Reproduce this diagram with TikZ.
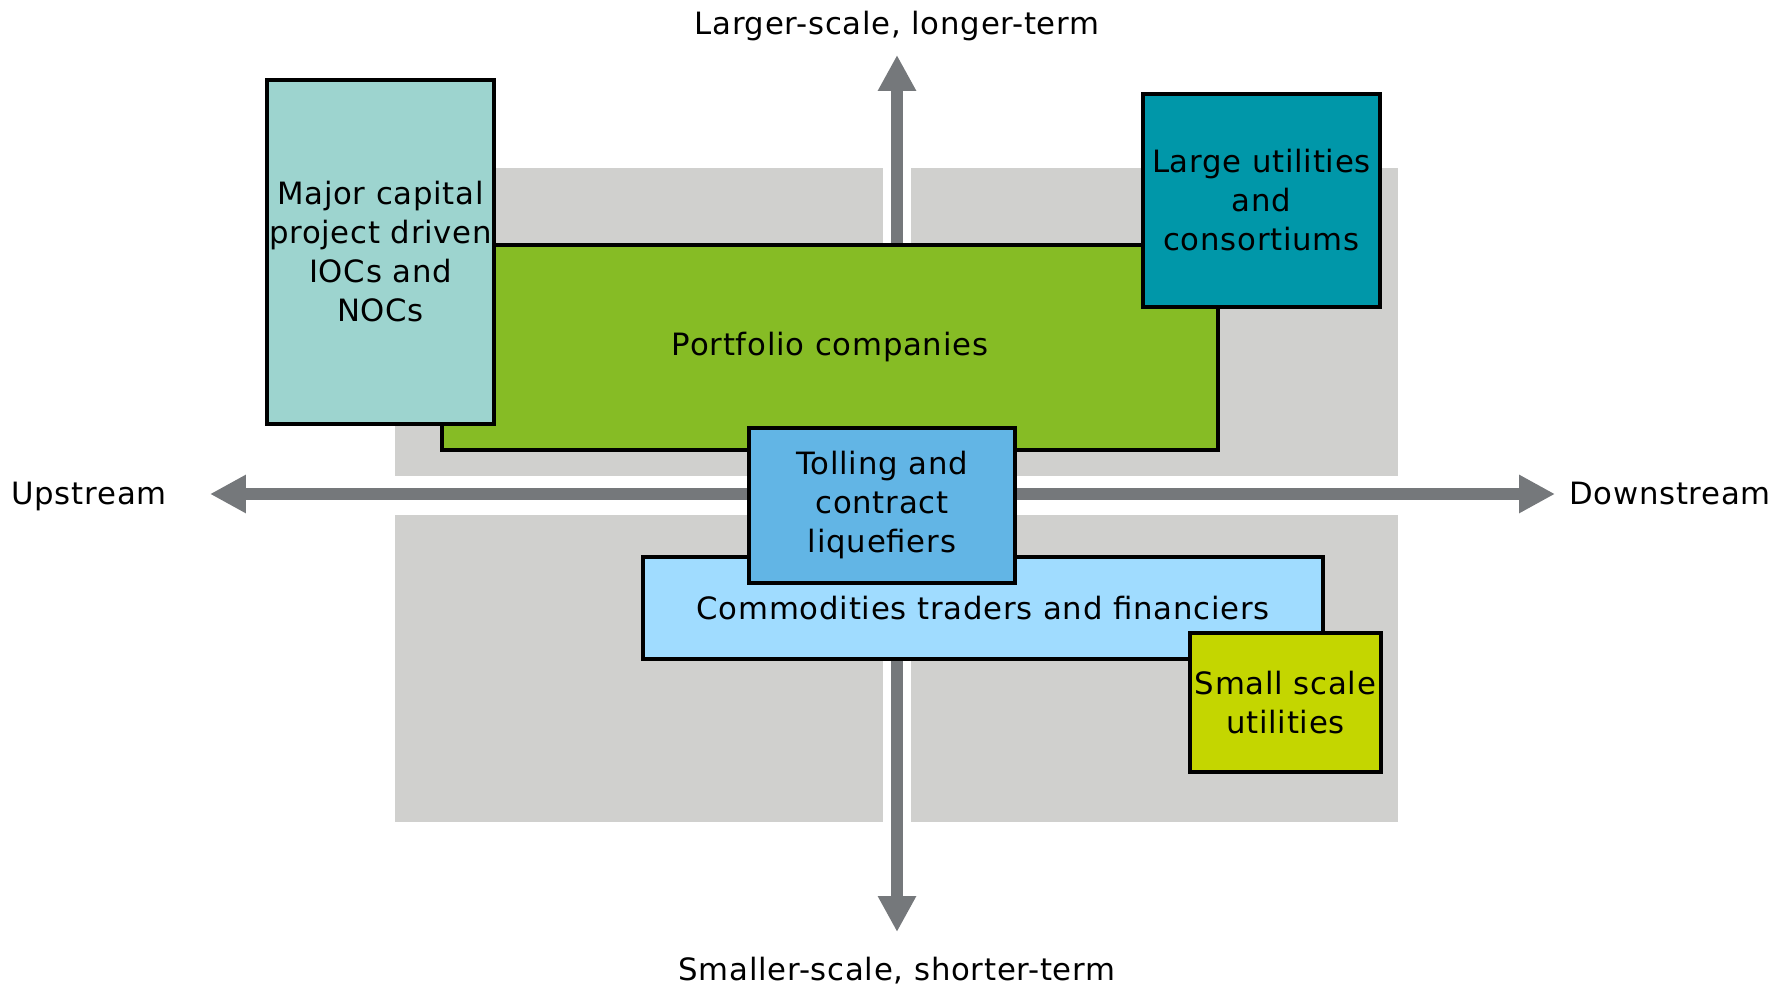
\documentclass[tikz,border=0pt]{standalone}
\usepackage{fontspec}
\setmainfont{DejaVu Sans}[LetterSpace=2.5]
\usetikzlibrary{arrows.meta}

\definecolor{quadgray}{HTML}{D0D0CE}
\definecolor{axisgray}{HTML}{75787B}
\definecolor{majorteal}{HTML}{9DD4CF}
\definecolor{portgreen}{HTML}{86BC25}
\definecolor{utilteal}{HTML}{0097A9}
\definecolor{tollblue}{HTML}{62B5E5}
\definecolor{tradeblue}{HTML}{A0DCFF}
\definecolor{smalllime}{HTML}{C4D600}

% one pixel of the layout grid
\newlength{\px}
\setlength{\px}{0.02cm}

\tikzset{
	quad/.style={fill=quadgray},
	axis/.style={draw=axisgray, line width=0.24cm,
		{Triangle[length=0.72cm,width=0.72cm]}-{Triangle[length=0.72cm,width=0.72cm]}},
	player/.style={draw=black, line width=3.5\px, align=center, inner sep=0pt,
		font=\fontsize{17.5}{22.2}\selectfont},
	axislabel/.style={anchor=base, font=\fontsize{17.5}{22.2}\selectfont}
}

\begin{document}
\begin{tikzpicture}[x=0.02cm, y=0.02cm]
		\useasboundingbox (0,0) rectangle (1790,990);
		
		% four quadrants
		\fill[quad] (395,514) rectangle (883,822);
		\fill[quad] (911,514) rectangle (1398,822);
		\fill[quad] (395,168) rectangle (883,475);
		\fill[quad] (911,168) rectangle (1398,475);
		
		% axes
		\coordinate (west) at (210,496);
		\coordinate (east) at (1555,496);
		\coordinate (north) at (897,935);
		\coordinate (south) at (897,58);
		\draw[axis] (west) -- (east);
		\draw[axis] (north) -- (south);
		
		\node[axislabel] (up) at (897,955) {Larger-scale, longer-term};
		\node[axislabel] (down) at (897,10) {Smaller-scale, shorter-term};
		\node[axislabel] (upstream) at (89,485) {Upstream};
		\node[axislabel] (downstream) at (1670,485) {Downstream};
		
		% players
		\node[player, fill=portgreen, minimum width=776\px, minimum height=205\px] (portfolio) at (830,642.5) {Portfolio companies};
		\node[player, fill=majorteal, minimum width=227\px, minimum height=344\px] (major) at (380.5,738) {Major capital\\project driven\\IOCs and\\NOCs};
		\node[player, fill=utilteal, minimum width=237\px, minimum height=213\px] (large) at (1261.5,789.5) {Large utilities\\and\\consortiums};
		\node[player, fill=tradeblue, minimum width=680\px, minimum height=102\px] (traders) at (983,382) {Commodities traders and financiers};
		\node[player, fill=tollblue, minimum width=266\px, minimum height=155\px] (tolling) at (882,484.5) {Tolling and\\contract\\liquefiers};
		\node[player, fill=smalllime, minimum width=191\px, minimum height=139\px] (small) at (1285.5,287.5) {Small scale\\utilities};
	\end{tikzpicture}
\end{document}
